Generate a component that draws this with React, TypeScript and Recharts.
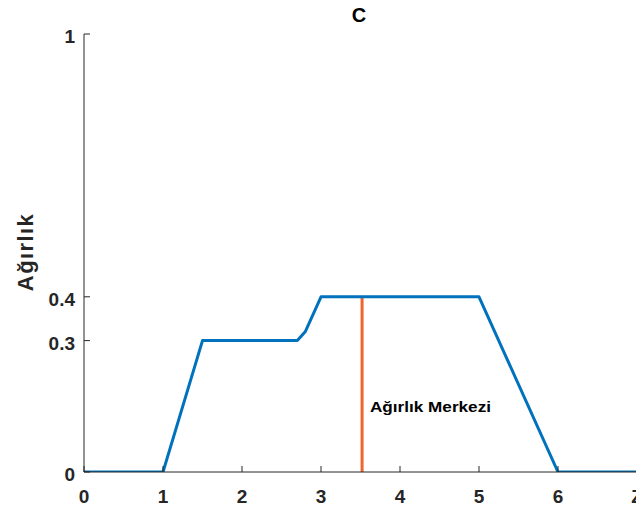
import React from "react";
import {
  LineChart,
  Line,
  XAxis,
  YAxis,
  ReferenceLine,
  ReferenceDot,
} from "recharts";

const membershipX = [0, 1, 1.5, 2.7, 2.8, 3, 5, 6, 7];
const membershipY = [0, 0, 0.3, 0.3, 0.32, 0.4, 0.4, 0, 0];
const centroidX = 3.52;
const centroidTop = 0.4;
const xTicks = [0, 1, 2, 3, 4, 5, 6, 7];
const xTickLabels = ["0", "1", "2", "3", "4", "5", "6", "Z"];
const yTicks = [0, 0.3, 0.4, 1];
const yTickLabels = ["0", "0.3", "0.4", "1"];
const rightTicks = [0.3, 0.4, 1];
const titleText = "C";
const yLabelText = "Ağırlık";
const centroidLabel = "Ağırlık Merkezi";
const centroidLabelPos = { x: 3.62, y: 0.148 };

const data = membershipX.map((x, i) => ({ x, y: membershipY[i] }));

const FONT = "'Liberation Sans', Arial, Helvetica, sans-serif";
const AXIS = "#262626";
const BLUE = "#0072BD";
const ORANGE = "#F0652F";

const BottomTick = (props: any) => {
  const { x, y, payload } = props;
  const idx = xTicks.indexOf(payload.value);
  return (
    <g>
      <line x1={x} x2={x} y1={y} y2={y - 6} stroke={AXIS} strokeWidth={1} />
      <text
        x={x}
        y={y + 31}
        textAnchor="middle"
        fontFamily={FONT}
        fontWeight="bold"
        fontSize={19}
        fill={AXIS}
      >
        {idx >= 0 ? xTickLabels[idx] : ""}
      </text>
    </g>
  );
};

const TopTick = (props: any) => {
  const { x, y } = props;
  return <line x1={x} x2={x} y1={y} y2={y + 6} stroke={AXIS} strokeWidth={1} />;
};

const LeftTick = (props: any) => {
  const { x, y, payload } = props;
  const idx = yTicks.indexOf(payload.value);
  return (
    <g>
      <line x1={x} x2={x + 6} y1={y} y2={y} stroke={AXIS} strokeWidth={1} />
      <text
        x={x - 9}
        y={y + 9}
        textAnchor="end"
        fontFamily={FONT}
        fontWeight="bold"
        fontSize={19}
        fill={AXIS}
      >
        {idx >= 0 ? yTickLabels[idx] : ""}
      </text>
    </g>
  );
};

const RightTick = (props: any) => {
  const { x, y } = props;
  return <line x1={x} x2={x - 6} y1={y} y2={y} stroke={AXIS} strokeWidth={1} />;
};

const CentroidLabel = (props: any) => {
  const { viewBox } = props;
  const cx = viewBox ? viewBox.x + (viewBox.width || 0) / 2 : 0;
  const cy = viewBox ? viewBox.y + (viewBox.height || 0) / 2 : 0;
  return (
    <text
      x={cx}
      y={cy + 5}
      textAnchor="start"
      fontFamily={FONT}
      fontWeight="bold"
      fontSize={15}
      fill="#000"
      textLength={121}
      lengthAdjust="spacingAndGlyphs"
    >
      {centroidLabel}
    </text>
  );
};

export default function App() {
  return (
    <div
      style={{
        position: "absolute",
        left: 0,
        top: 0,
        width: 636,
        height: 516,
        overflow: "hidden",
        background: "#fff",
        fontFamily: FONT,
      }}
    >
      <LineChart
        width={640}
        height={516}
        data={data}
        margin={{ top: 34, right: 3, bottom: 0, left: 0 }}
      >
        <XAxis
          dataKey="x"
          type="number"
          domain={[0, 7]}
          ticks={xTicks}
          interval={0}
          allowDataOverflow
          height={44}
          tickSize={0}
          tickMargin={0}
          tickLine={false}
          axisLine={{ stroke: AXIS, strokeWidth: 1 }}
          tick={<BottomTick />}
        />
        <XAxis
          xAxisId="top"
          orientation="top"
          dataKey="x"
          type="number"
          domain={[0, 7]}
          ticks={xTicks}
          interval={0}
          allowDataOverflow
          height={0}
          tickSize={0}
          tickMargin={0}
          tickLine={false}
          axisLine={{ stroke: AXIS, strokeWidth: 1 }}
          tick={<TopTick />}
        />
        <YAxis
          type="number"
          domain={[0, 1]}
          ticks={yTicks}
          interval={0}
          allowDataOverflow
          width={84}
          tickSize={0}
          tickMargin={0}
          tickLine={false}
          axisLine={{ stroke: AXIS, strokeWidth: 1 }}
          tick={<LeftTick />}
        />
        <YAxis
          yAxisId="right"
          orientation="right"
          type="number"
          domain={[0, 1]}
          ticks={rightTicks}
          interval={0}
          allowDataOverflow
          width={0}
          tickSize={0}
          tickMargin={0}
          tickLine={false}
          axisLine={{ stroke: AXIS, strokeWidth: 1 }}
          tick={<RightTick />}
        />
        <ReferenceLine
          segment={[
            { x: centroidX, y: 0 },
            { x: centroidX, y: centroidTop },
          ]}
          stroke={ORANGE}
          strokeWidth={3}
          ifOverflow="visible"
        />
        <Line
          type="linear"
          dataKey="y"
          stroke={BLUE}
          strokeWidth={3}
          dot={false}
          isAnimationActive={false}
          strokeLinejoin="round"
        />
        <ReferenceDot
          x={centroidLabelPos.x}
          y={centroidLabelPos.y}
          r={0}
          fill="none"
          stroke="none"
          label={<CentroidLabel />}
        />
      </LineChart>
      <div
        style={{
          position: "absolute",
          left: 359,
          top: 4,
          transform: "translateX(-50%)",
          fontFamily: FONT,
          fontWeight: "bold",
          fontSize: 20,
          color: "#000",
          lineHeight: "22px",
        }}
      >
        {titleText}
      </div>
      <div
        style={{
          position: "absolute",
          left: 26,
          top: 252,
          transform: "translate(-50%, -50%) rotate(-90deg)",
          fontFamily: FONT,
          fontWeight: "bold",
          fontSize: 22,
          letterSpacing: "1.4px",
          color: AXIS,
          lineHeight: "24px",
          whiteSpace: "nowrap",
        }}
      >
        {yLabelText}
      </div>
    </div>
  );
}
